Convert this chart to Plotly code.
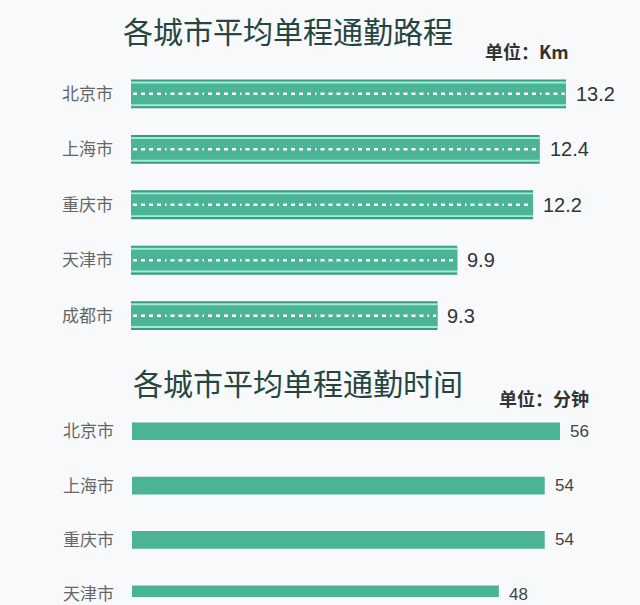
import plotly.graph_objects as go

# ---- data ----
dist_cities = ["北京市", "上海市", "重庆市", "天津市", "成都市"]
dist_values = [13.2, 12.4, 12.2, 9.9, 9.3]
time_cities = ["北京市", "上海市", "重庆市", "天津市"]
time_values = [56, 54, 54, 48]

title_dist = "各城市平均单程通勤路程"
unit_dist = "单位：Km"
title_time = "各城市平均单程通勤时间"
unit_time = "单位：分钟"

# ---- styles ----
FONT = "Noto Sans CJK SC"
NUM_FONT = "Liberation Sans"
NARROW_FONT = "Liberation Sans Narrow, Liberation Sans"
BG = "#f7f9fb"
TEAL = "#4bb396"
DARK = "#3a9a82"
MINT = "#9eedd9"
TITLE_C = "#27453f"
LABEL_C = "#666666"
VALUE_C = "#333333"

W, H = 640, 605
fig = go.Figure()

# top chart: road-like bars (outer dark line, mint line, teal body)
for width, color in [(0.52, DARK), (0.446, MINT), (0.375, TEAL)]:
    fig.add_trace(go.Bar(
        x=dist_values, y=dist_cities, orientation="h", width=width,
        marker=dict(color=color, line=dict(width=0)),
        xaxis="x", yaxis="y", hoverinfo="skip", showlegend=False))

# dashed center line of each road
for c, v in zip(dist_cities, dist_values):
    fig.add_trace(go.Scatter(
        x=[0.06, v - 0.04], y=[c, c], mode="lines",
        line=dict(color="white", width=2.5,
                  dash="4px,4px,4px,4px,4px,4px,4px,4px,1.5px,4px"),
        xaxis="x", yaxis="y", hoverinfo="skip", showlegend=False))

# bottom chart: plain bars
fig.add_trace(go.Bar(
    x=time_values, y=time_cities, orientation="h", width=0.325,
    marker=dict(color=TEAL, line=dict(width=0)),
    xaxis="x2", yaxis="y2", hoverinfo="skip", showlegend=False))

annotations = []
for c, v in zip(dist_cities, dist_values):
    annotations.append(dict(
        x=v, y=c, xref="x", yref="y", text=f"{v:.1f}", showarrow=False,
        xanchor="left", yanchor="middle", xshift=8,
        font=dict(family=NUM_FONT, size=20, color=VALUE_C)))
for c, v in zip(time_cities, time_values):
    annotations.append(dict(
        x=v, y=c, xref="x2", yref="y2", text=f"{v}", showarrow=False,
        xanchor="left", yanchor="middle", xshift=8,
        font=dict(family=NARROW_FONT, size=17, color="#444444")))

# titles and units
annotations += [
    dict(x=287.5 / W, y=1 - 30 / H, xref="paper", yref="paper", text=title_dist,
         showarrow=False, xanchor="center", yanchor="middle",
         font=dict(family=FONT, size=30, color=TITLE_C)),
    dict(x=571 / W, y=1 - 52 / H, xref="paper", yref="paper", text=unit_dist,
         showarrow=False, xanchor="right", yanchor="middle",
         font=dict(family=FONT, size=18, color=VALUE_C, weight="bold")),
    dict(x=297.5 / W, y=1 - 387 / H, xref="paper", yref="paper", text=title_time,
         showarrow=False, xanchor="center", yanchor="middle",
         font=dict(family=FONT, size=30, color=TITLE_C)),
    dict(x=591 / W, y=1 - 403 / H, xref="paper", yref="paper", text=unit_time,
         showarrow=False, xanchor="right", yanchor="middle",
         font=dict(family=FONT, size=18, color=VALUE_C, weight="bold")),
]

x0_top, slope_top = 131, (566 - 131) / 13.2
x0_bot, slope_bot = 132, (560 - 132) / 56

fig.update_layout(
    width=W, height=H,
    margin=dict(l=0, r=0, t=0, b=0),
    paper_bgcolor=BG, plot_bgcolor=BG,
    barmode="overlay",
    annotations=annotations,
    font=dict(family=FONT),
    xaxis=dict(domain=[x0_top / W, 1], range=[0, (W - x0_top) / slope_top],
               visible=False, fixedrange=True),
    yaxis=dict(domain=[1 - 348 / H, 1 - 67 / H], type="category",
               categoryarray=dist_cities, range=[4.5, -0.5],
               showgrid=False, zeroline=False, showline=False, ticks="",
               ticklabelstandoff=17,
               tickfont=dict(family=FONT, size=17, color=LABEL_C),
               anchor="x"),
    xaxis2=dict(domain=[x0_bot / W, 1], range=[0, (W - x0_bot) / slope_bot],
                visible=False, anchor="y2", fixedrange=True),
    yaxis2=dict(domain=[0, 1 - 409.5 / H], type="category",
                categoryarray=time_cities, range=[3.05, -0.5],
                showgrid=False, zeroline=False, showline=False, ticks="",
                ticklabelstandoff=17,
                tickfont=dict(family=FONT, size=17, color=LABEL_C),
                anchor="x2"),
)

fig.write_html("out.html")
